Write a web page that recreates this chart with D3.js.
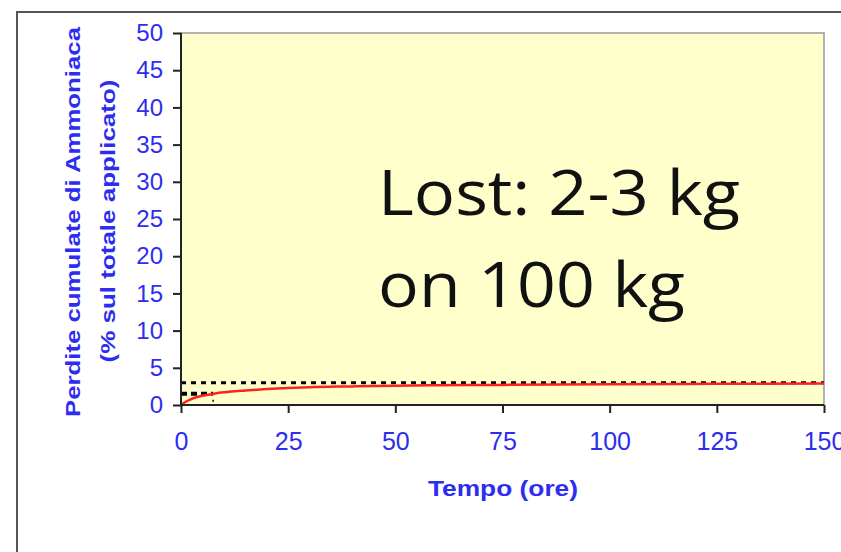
<!DOCTYPE html>
<html><head><meta charset="utf-8">
<script src="https://cdn.jsdelivr.net/npm/d3@7"></script>
<style>body{margin:0;background:#fff}svg{display:block}</style>
</head><body>
<script>
const timeHours = [0,1,2,4,6,8,10,15,20,25,30,40,50,60,75,100,125,150];
const lossPct   = [0,0.4,0.7,1.1,1.35,1.55,1.7,1.95,2.15,2.3,2.4,2.5,2.6,2.65,2.7,2.8,2.85,2.9];
const refTotal = [[0,3],[150,3]];
const refShort = [[0,1.5],[7.5,1.5]];
const refShortV = [[7.5,1.5],[7.5,0]];
const xTicks = [0,25,50,75,100,125,150];
const yTicks = [0,5,10,15,20,25,30,35,40,45,50];
const yTitle = ["Perdite cumulate di Ammoniaca","(% sul totale applicato)"];
const xTitle = "Tempo (ore)";
const note = ["Lost: 2-3 kg","on 100 kg"];

const W=841,H=552;
const svg=d3.select("body").append("svg").attr("width",W).attr("height",H);
const blue="#2d2df0";
// outer frame
svg.append("path").attr("d","M17,"+H+" V12 H"+W).attr("fill","none").attr("stroke","#555").attr("stroke-width",2);

const L=181,R=824,T=33,B=405;
const x=d3.scaleLinear().domain([0,150]).range([L,R]);
const y=d3.scaleLinear().domain([0,50]).range([B,T]);

svg.append("rect").attr("x",L).attr("y",T).attr("width",R-L).attr("height",B-T)
  .attr("fill","#ffffcc").attr("stroke","#999").attr("stroke-width",1.5);

const line=d3.line().x(d=>x(d[0])).y(d=>y(d[1]));
svg.append("path").datum(refTotal).attr("d",line).attr("fill","none").attr("stroke","#000").attr("stroke-width",3).attr("stroke-dasharray","5,5");
svg.append("path").datum(refShort).attr("d",line).attr("fill","none").attr("stroke","#000").attr("stroke-width",4).attr("stroke-dasharray","6,4");
svg.append("path").datum(refShortV).attr("d",line).attr("fill","none").attr("stroke","#000").attr("stroke-width",1.5).attr("stroke-dasharray","2,6").attr("stroke-dashoffset",-6);
const curve=d3.line().curve(d3.curveMonotoneX).x((d,i)=>x(timeHours[i])).y(d=>y(d));
svg.append("path").datum(lossPct).attr("d",curve).attr("fill","none").attr("stroke","#ff2020").attr("stroke-width",2.5);

const ya=svg.append("g").attr("transform",`translate(${L},0)`).call(d3.axisLeft(y).tickValues(yTicks).tickSize(8).tickPadding(10));
const xa=svg.append("g").attr("transform",`translate(0,${B})`).call(d3.axisBottom(x).tickValues(xTicks).tickSize(8).tickPadding(19));
[ya,xa].forEach(a=>{
  a.select(".domain").attr("stroke","#222").attr("stroke-width",2);
  a.selectAll(".tick line").attr("stroke","#222").attr("stroke-width",2);
  a.selectAll("text").attr("fill",blue).style("font-family","Liberation Sans, Arial, sans-serif");
});
ya.selectAll("text").style("font-size","24px");
xa.selectAll("text").style("font-size","25px");
xa.select(".domain").attr("d",`M${L},0H${R}`);
ya.select(".domain").attr("d",`M0,${T}V${B}`);

const tg=svg.append("g").style("font-family","Liberation Sans, Arial, sans-serif").style("font-weight","bold").attr("fill",blue).style("font-size","21px");
tg.append("text").attr("transform","translate(80,222) rotate(-90)").attr("text-anchor","middle").attr("textLength",390).attr("lengthAdjust","spacingAndGlyphs").text(yTitle[0]);
tg.append("text").attr("transform","translate(115,221) rotate(-90)").attr("text-anchor","middle").attr("textLength",283).attr("lengthAdjust","spacingAndGlyphs").text(yTitle[1]);
tg.append("text").attr("x",503).attr("y",496).attr("text-anchor","middle").style("font-size","22px").attr("textLength",150).attr("lengthAdjust","spacingAndGlyphs").text(xTitle);

const ng=svg.append("g").style("font-family","Open Sans, sans-serif").style("font-size","62px").attr("fill","#111");
ng.append("text").attr("x",378).attr("y",215).attr("textLength",362).attr("lengthAdjust","spacingAndGlyphs").text(note[0]);
ng.append("text").attr("x",378).attr("y",307).attr("textLength",307).attr("lengthAdjust","spacingAndGlyphs").text(note[1]);
</script>
</body></html>
